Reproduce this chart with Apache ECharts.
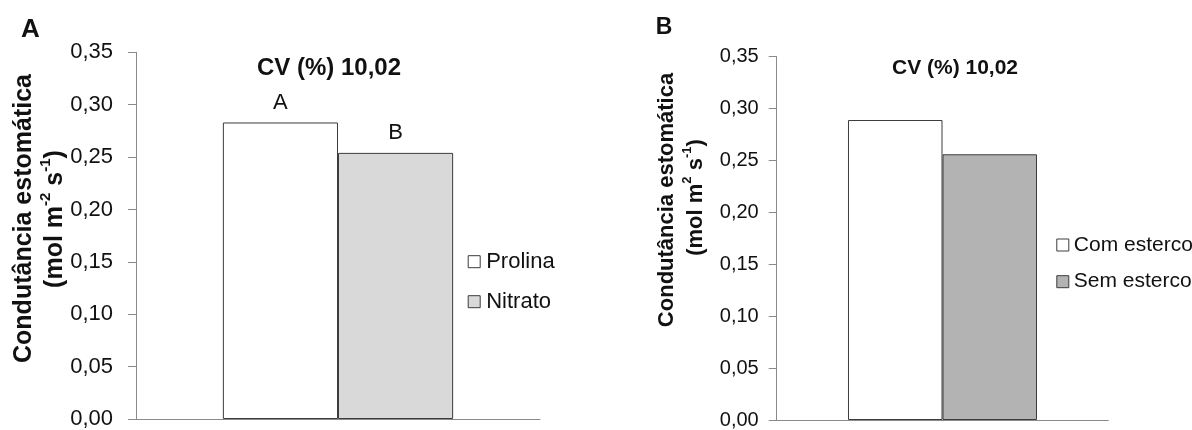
<!DOCTYPE html>
<html>
<head>
<meta charset="utf-8">
<script src="https://cdn.jsdelivr.net/npm/echarts@6/dist/echarts.min.js"></script>
<style>
  html, body { margin: 0; padding: 0; background: #ffffff; }
  #chart { width: 1192px; height: 430px; }
</style>
</head>
<body>
<div id="chart"></div>
<script>
// ---- data ----
const categories = [''];
const seriesNamesA = ['Prolina', 'Nitrato'];
const valuesA = [0.283, 0.254];
const lettersA = ['A', 'B'];
const seriesNamesB = ['Com esterco', 'Sem esterco'];
const valuesB = [0.289, 0.256];
const yTickValues = [0, 0.05, 0.10, 0.15, 0.20, 0.25, 0.30, 0.35];
const yTickLabels = ['0,00', '0,05', '0,10', '0,15', '0,20', '0,25', '0,30', '0,35'];
const cvText = 'CV (%) 10,02';
const yTitle1 = 'Condutância estomática';

// ---- styles ----
const FONT = 'Arial, "Liberation Sans", sans-serif';
const fillsA = ['#ffffff', '#d9d9d9'];
const fillsB = ['#ffffff', '#b3b3b3'];
const axisColor = '#8a8a8a';
const edgeColor = '#3c3c3c';
const textColor = '#111111';

function tickLabel(v) {
  const i = yTickValues.findIndex(t => Math.abs(t - v) < 1e-9);
  return i >= 0 ? yTickLabels[i] : '';
}

function yAxisCfg(gridIndex, fontSize, margin) {
  return {
    type: 'value', gridIndex: gridIndex,
    min: 0, max: 0.35, interval: 0.05,
    axisLine: { show: true, lineStyle: { color: axisColor, width: 1 } },
    axisTick: { show: true, length: 8, inside: false, lineStyle: { color: axisColor, width: 1 } },
    splitLine: { show: false },
    axisLabel: { formatter: tickLabel, fontSize: fontSize, fontFamily: FONT, color: textColor, margin: margin }
  };
}
function xAxisCfg(gridIndex) {
  return {
    type: 'category', gridIndex: gridIndex, data: categories,
    axisLine: { show: true, lineStyle: { color: axisColor, width: 1 } },
    axisTick: { show: false }, axisLabel: { show: false }, splitLine: { show: false }
  };
}

const series = [];
seriesNamesA.forEach((name, i) => {
  series.push({
    name: name, type: 'bar', xAxisIndex: 0, yAxisIndex: 0,
    data: [valuesA[i]],
    barGap: '0%', barCategoryGap: '43%',
    itemStyle: { color: fillsA[i], borderColor: edgeColor, borderWidth: 1 },
    label: { show: true, position: 'top', distance: 9, formatter: () => lettersA[i],
             fontSize: 22, fontFamily: FONT, color: textColor },
    emphasis: { disabled: true }, animation: false
  });
});
seriesNamesB.forEach((name, i) => {
  series.push({
    name: name, type: 'bar', xAxisIndex: 1, yAxisIndex: 1,
    data: [valuesB[i]],
    barGap: '0%', barCategoryGap: '43%',
    itemStyle: { color: fillsB[i], borderColor: edgeColor, borderWidth: 1 },
    emphasis: { disabled: true }, animation: false
  });
});

function txt(x, y, text, size, opts) {
  opts = opts || {};
  return {
    type: 'text', x: x, y: y, rotation: opts.rotation || 0, silent: true,
    style: Object.assign({
      text: text, fill: textColor,
      font: (opts.bold ? 'bold ' : '') + size + 'px ' + FONT,
      fontSize: size, fontWeight: opts.bold ? 'bold' : 'normal', fontFamily: FONT,
      align: 'center', verticalAlign: 'middle',
      textAlign: 'center', textVerticalAlign: 'middle'
    }, opts.extra || {})
  };
}
function unitText(x, y, size, supSize, sup1) {
  return txt(x, y, '{n|(mol m}{s|' + sup1 + '}{n| s}{s|-1}{n|)}', size, {
    bold: true, rotation: Math.PI / 2,
    extra: {
      rich: {
        n: { fontSize: size, fontWeight: 'bold', fontFamily: FONT, fill: textColor, color: textColor, verticalAlign: 'bottom', lineHeight: size * 1.2 },
        s: { fontSize: supSize, fontWeight: 'bold', fontFamily: FONT, fill: textColor, color: textColor, verticalAlign: 'top', lineHeight: size * 1.2 }
      }
    }
  });
}

const option = {
  backgroundColor: '#ffffff',
  animation: false,
  textStyle: { fontFamily: FONT },
  grid: [
    { left: 136, top: 52.3, width: 404, height: 369.2, containLabel: false },
    { left: 776.7, top: 56.7, width: 331.6, height: 368.8, containLabel: false }
  ],
  xAxis: [xAxisCfg(0), xAxisCfg(1)],
  yAxis: [yAxisCfg(0, 22, 23), yAxisCfg(1, 20, 18)],
  legend: [
    {
      data: seriesNamesA, orient: 'vertical', left: 467.7, top: 250.7, padding: 0,
      itemWidth: 12, itemHeight: 12, itemGap: 18, icon: 'rect',
      itemStyle: { borderColor: edgeColor, borderWidth: 1 },
      textStyle: { fontSize: 22, fontFamily: FONT, color: textColor, lineHeight: 22, padding: [0, 0, 0, 1] },
      selectedMode: false
    },
    {
      data: seriesNamesB, orient: 'vertical', left: 1056.3, top: 234.5, padding: 0,
      itemWidth: 12, itemHeight: 12, itemGap: 15.7, icon: 'rect',
      itemStyle: { borderColor: edgeColor, borderWidth: 1 },
      textStyle: { fontSize: 21, fontFamily: FONT, color: textColor, lineHeight: 21 },
      selectedMode: false
    }
  ],
  graphic: [
    txt(30.5, 29.5, 'A', 26, { bold: true }),
    txt(664, 27.5, 'B', 23, { bold: true }),
    txt(329, 68.3, cvText, 24, { bold: true }),
    txt(955, 68.3, cvText, 21, { bold: true }),
    txt(24, 218.5, yTitle1, 25, { bold: true, rotation: Math.PI / 2 }),
    unitText(53, 219, 25, 15, '-2'),
    txt(667, 200, yTitle1, 22, { bold: true, rotation: Math.PI / 2 }),
    unitText(694, 197.5, 22, 13, '2')
  ],
  series: series
};

const chart = echarts.init(document.getElementById('chart'), null, { renderer: 'canvas' });
chart.setOption(option);
</script>
</body>
</html>
